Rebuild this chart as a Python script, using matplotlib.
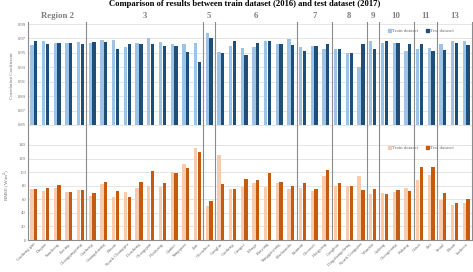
import numpy as np
import matplotlib
matplotlib.use("Agg")
import matplotlib.pyplot as plt
from matplotlib.patches import Patch

plt.rcParams['font.family'] = ['Liberation Serif', 'DejaVu Serif']

stations = ["Gaoheng gan", "Daqiao", "Sancheng", "Jiaxing", "Changqingyang",
            "Gucheng", "Guangshuang", "Bonan", "North Chongqiu", "Donsheng",
            "Changqian", "Huaiyang", "Qinbei", "Yangquan", "Jian",
            "Chenzhou",
            "Ganglin", "Gaoheng", "Gangxi", "Menge", "Baoyang", "Yonggaoyang", "Renhuanda",
            "Kunmin", "Chenwei", "Hengyang",
            "Conghua", "Dingzhangcheng", "North Gangqiao",
            "Wanzhe",
            "Anlong", "Chengxiang", "Pukang",
            "Gusai", "Jini",
            "Seoul", "Busan", "Incheon"]

region_labels = ["Region 2", "3", "5", "6", "7", "8", "9", "10", "11", "13"]
region_sizes = [5, 10, 1, 7, 3, 3, 1, 3, 2, 3]

cc_train = [0.961, 0.967, 0.964, 0.964, 0.965,
            0.964, 0.968, 0.968, 0.958, 0.964, 0.971, 0.965, 0.962, 0.962, 0.964,
            0.977,
            0.951, 0.960, 0.957, 0.958, 0.967, 0.962, 0.969,
            0.958, 0.959, 0.955,
            0.955, 0.950, 0.930,
            0.966,
            0.964, 0.964, 0.952,
            0.955, 0.957,
            0.962, 0.966, 0.966]
cc_test = [0.966, 0.962, 0.964, 0.964, 0.962,
           0.965, 0.965, 0.956, 0.962, 0.962, 0.962, 0.960, 0.960, 0.951, 0.937,
           0.971,
           0.950, 0.966, 0.947, 0.964, 0.966, 0.962, 0.961,
           0.952, 0.959, 0.962,
           0.955, 0.950, 0.962,
           0.955,
           0.966, 0.963, 0.962,
           0.962, 0.952,
           0.954, 0.964, 0.961]

rmse_train = [74.6, 72.7, 77.0, 70.2, 73.7,
              64.8, 82.0, 63.9, 71.3, 77.0, 80.0, 78.6, 100.7, 111.5, 136.0,
              50.1,
              124.8, 74.6, 77.6, 83.5, 77.6, 83.5, 75.6,
              76.1, 72.2, 94.3,
              79.6, 79.6, 94.3,
              67.3,
              69.8, 71.3, 77.0,
              88.4, 95.8,
              59.0, 51.6, 55.0]
rmse_test = [75.6, 77.0, 80.5, 70.7, 73.2,
             68.8, 85.0, 72.2, 62.9, 85.5, 101.0, 83.5, 98.2, 106.6, 129.2,
             58.0,
             82.0, 75.0, 90.4, 88.4, 98.2, 85.5, 79.6,
             84.0, 74.6, 103.2,
             84.5, 79.6, 73.7,
             75.6,
             67.3, 73.7, 72.7,
             107.1, 107.1,
             69.8, 55.0, 60.0]

c_train_b = '#9dc3e6'
c_test_b = '#1f4e79'
c_train_o = '#f8cbad'
c_test_o = '#c55a11'
grid_c = '#e0e0e0'
sep_c = '#8c8c8c'
txt_c = '#6b6b6b'

W, H = 473, 272
fig = plt.figure(figsize=(W / 100, H / 100), dpi=100)
L = 28 / W
AW = 444 / W
ax1 = fig.add_axes([L, (H - 130) / H, AW, 108 / H])
ax2 = fig.add_axes([L, (H - 240) / H, AW, 110 / H])

x = np.arange(len(stations))
bw = 0.28
off = 0.16

ax1.bar(x - off, np.array(cc_train) - 0.85, bottom=0.85, width=bw, color=c_train_b, zorder=3)
ax1.bar(x + off, np.array(cc_test) - 0.85, bottom=0.85, width=bw, color=c_test_b, zorder=3)
ax1.set_ylim(0.843, 0.9928)
ax1.set_yticks(np.arange(0.85, 0.9901, 0.02))
ax1.set_yticklabels([f"{v:.2f}" for v in np.arange(0.85, 0.9901, 0.02)])
ax1.set_xticks([])

ax2.bar(x - off, rmse_train, width=bw, color=c_train_o, zorder=3)
ax2.bar(x + off, rmse_test, width=bw, color=c_test_o, zorder=3)
ax2.set_ylim(0, 162)
ax2.set_yticks(np.arange(0, 141, 20))
ax2.set_xticks(x)
ax2.set_xticklabels(stations, rotation=45, ha='right', rotation_mode='anchor',
                    fontsize=3.3, color=txt_c)

for ax in (ax1, ax2):
    ax.set_xlim(-0.5, len(stations) - 0.5)
    ax.yaxis.grid(True, color=grid_c, lw=0.6, zorder=0)
    ax.set_axisbelow(True)
    ax.tick_params(axis='both', length=0, pad=1.5, labelsize=3.3, labelcolor=txt_c)
    for s in ('top', 'right'):
        ax.spines[s].set_visible(False)
    ax.spines['left'].set_color(sep_c)
    ax.spines['left'].set_linewidth(0.8)
    ax.spines['bottom'].set_visible(False)
    bounds = np.cumsum(region_sizes)[:-1] - 0.5
    for b in bounds:
        ax.axvline(b, color=sep_c, lw=0.8, zorder=4)
    ax.axvline(len(stations) - 0.5, color=sep_c, lw=0.8, zorder=4, clip_on=False)
ax2.spines['bottom'].set_visible(True)
ax2.spines['bottom'].set_color(sep_c)
ax2.spines['bottom'].set_linewidth(0.8)

# region labels
starts = np.concatenate([[0], np.cumsum(region_sizes)[:-1]])
for lab, s0, n in zip(region_labels, starts, region_sizes):
    cx = s0 - 0.5 + n / 2
    ax1.text(cx, 1.02, lab, transform=ax1.get_xaxis_transform(), ha='center', va='bottom',
             fontsize=6.3, fontweight='bold', color='#7f7f7f')

ax1.set_ylabel('Correlation Coefficient', fontsize=3.6, color=txt_c, labelpad=3)
ax2.set_ylabel('RMSE (W/m$^{2}$)', fontsize=3.6, color=txt_c, labelpad=5)

leg_kw = dict(loc='center', ncol=2, frameon=False, fontsize=3.6, handlelength=0.6,
              handleheight=0.6, handletextpad=0.3, columnspacing=1.5, labelcolor=txt_c)
ax1.legend(handles=[Patch(color=c_train_b, label='Train dataset'),
                    Patch(color=c_test_b, label='Test dataset')],
           bbox_to_anchor=(0.885, 0.917), **leg_kw)
ax2.legend(handles=[Patch(color=c_train_o, label='Train dataset'),
                    Patch(color=c_test_o, label='Test dataset')],
           bbox_to_anchor=(0.885, 0.836), **leg_kw)

fig.text(245 / W, 1 - 5.5 / H, 'Comparison of results between train dataset (2016) and test dataset (2017)',
         ha='center', va='baseline', fontsize=6.2, fontweight='bold', color='#000000')

fig.savefig('out.png', dpi=100)
